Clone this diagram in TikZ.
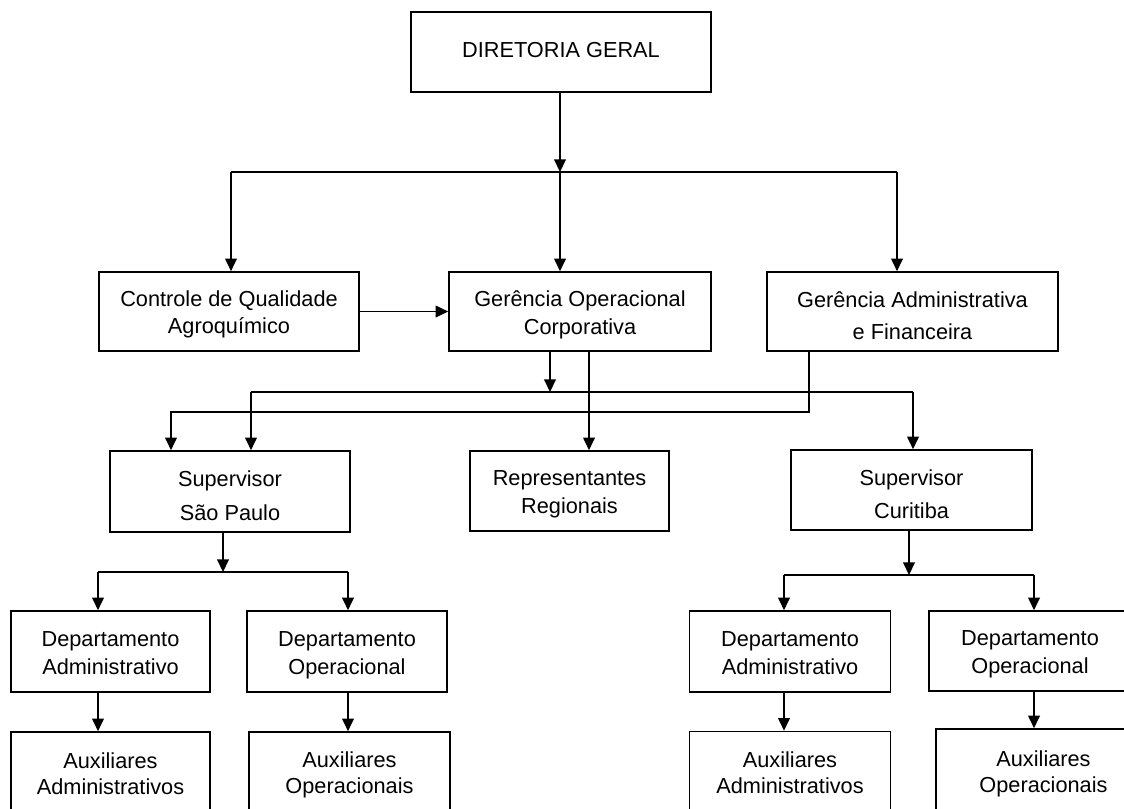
\documentclass[tikz,border=0pt]{standalone}
\usepackage{fontspec}
\setmainfont{Liberation Sans}
\usetikzlibrary{arrows.meta}
% line strut: fixed depth, height fills the rest of the baseline skip
\newcommand\lnstrut{\rule[-3pt]{0pt}{\baselineskip}}
\begin{document}
\begin{tikzpicture}[x=0.75pt,y=-0.75pt,
  box/.style 2 args={draw=black, line width=1.2pt, fill=white, inner sep=0pt,
    align=center, minimum width=#1*0.75pt, minimum height=#2*0.75pt,
    font=\fontsize{16.3pt}{19.5pt}\selectfont},
  wide/.style={font=\fontsize{16.3pt}{24pt}\selectfont},
  line/.style={line width=1.2pt},
  arr/.style={line, -{Triangle[length=9.5pt,width=8.8pt]}},
]
\clip (0,0) rectangle (1124,808);
\fill[white] (0,0) rectangle (1124,808);

% ---- boxes ----
\node[box={300}{80}] (dg) at (561,52) {\rule[-3pt]{0pt}{13.5pt}DIRETORIA GERAL};

\node[box={260}{79}] (cq) at (229,311.5) {\lnstrut Controle de Qualidade\\\lnstrut Agroquímico};
\node[box={262}{79}] (go) at (580,311.5) {\lnstrut Gerência Operacional\\\lnstrut Corporativa};
\node[box={291}{79},wide] (ga) at (912.5,311.5) {\lnstrut Gerência Administrativa\\\lnstrut e Financeira};

\node[box={240}{81},wide] (sp) at (230,491.5) {\lnstrut Supervisor\\\lnstrut São Paulo};
\node[box={199}{80}] (rr) at (569.5,491) {\lnstrut Representantes\\\lnstrut Regionais};
\node[box={241}{80},wide] (sc) at (911.5,490) {\lnstrut Supervisor\\\lnstrut Curitiba};

\node[box={199}{81}] (das) at (110.5,651.5) {\lnstrut Departamento\\\lnstrut Administrativo};
\node[box={200}{81}] (dos) at (347,651.5) {\lnstrut Departamento\\\lnstrut Operacional};
\node[box={201}{81}] (dac) at (790,651.5) {\lnstrut Departamento\\\lnstrut Administrativo};
\node[box={202}{80}] (doc) at (1030,651) {\lnstrut Departamento\\\lnstrut Operacional};

% bottom row runs past the lower edge of the sheet
\node[box={199}{80}] (aas) at (110.5,772) {\lnstrut Auxiliares\\\lnstrut Administrativos};
\node[box={201}{80}] (aos) at (349.5,772) {\lnstrut Auxiliares\\\lnstrut Operacionais};
\node[box={201}{80}] (aac) at (790,771.5) {\lnstrut Auxiliares\\\lnstrut Administrativos};
\node[box={215}{84}] (aoc) at (1043.5,771) {\lnstrut Auxiliares\\\lnstrut Operacionais};

% ---- junction points ----
\coordinate (j1) at (560,172);
\coordinate (b1l) at (231,172);
\coordinate (b1r) at (897,172);
\coordinate (j2) at (550,392);
\coordinate (b2l) at (251,392);
\coordinate (b2r) at (913,392);
\coordinate (gr) at (589,392);
\coordinate (ga1) at (809,412);
\coordinate (ga2) at (171,412);
\coordinate (j3) at (223,572);
\coordinate (b3l) at (98,572);
\coordinate (b3r) at (348,572);
\coordinate (j4) at (909,575);
\coordinate (b4l) at (784,575);
\coordinate (b4r) at (1034,575);

% ---- connectors ----
\draw[arr] (dg.south -| j1) -- (j1);
\draw[line] (b1l) -- (b1r);
\draw[arr] (b1l) -- (b1l |- cq.north);
\draw[arr] (j1) -- (j1 |- go.north);
\draw[arr] (b1r) -- (b1r |- ga.north);

\draw[arr] (cq.east) -- (go.west);

\draw[arr] (go.south -| j2) -- (j2);
\draw[line] (b2l) -- (b2r);
\draw[arr] (b2l) -- (b2l |- sp.north);
\draw[arr] (b2r) -- (b2r |- sc.north);
\draw[arr] (go.south -| gr) -- (rr.north -| gr);
\draw[arr] (ga.south -| ga1) -- (ga1) -- (ga2) -- (ga2 |- sp.north);

\draw[arr] (sp.south -| j3) -- (j3);
\draw[line] (b3l) -- (b3r);
\draw[arr] (b3l) -- (b3l |- das.north);
\draw[arr] (b3r) -- (b3r |- dos.north);
\draw[arr] (das.south -| b3l) -- (aas.north -| b3l);
\draw[arr] (dos.south -| b3r) -- (aos.north -| b3r);

\draw[arr] (sc.south -| j4) -- (j4);
\draw[line] (b4l) -- (b4r);
\draw[arr] (b4l) -- (b4l |- dac.north);
\draw[arr] (b4r) -- (b4r |- doc.north);
\draw[arr] (dac.south -| b4l) -- (aac.north -| b4l);
\draw[arr] (doc.south -| b4r) -- (aoc.north -| b4r);
\end{tikzpicture}
\end{document}
